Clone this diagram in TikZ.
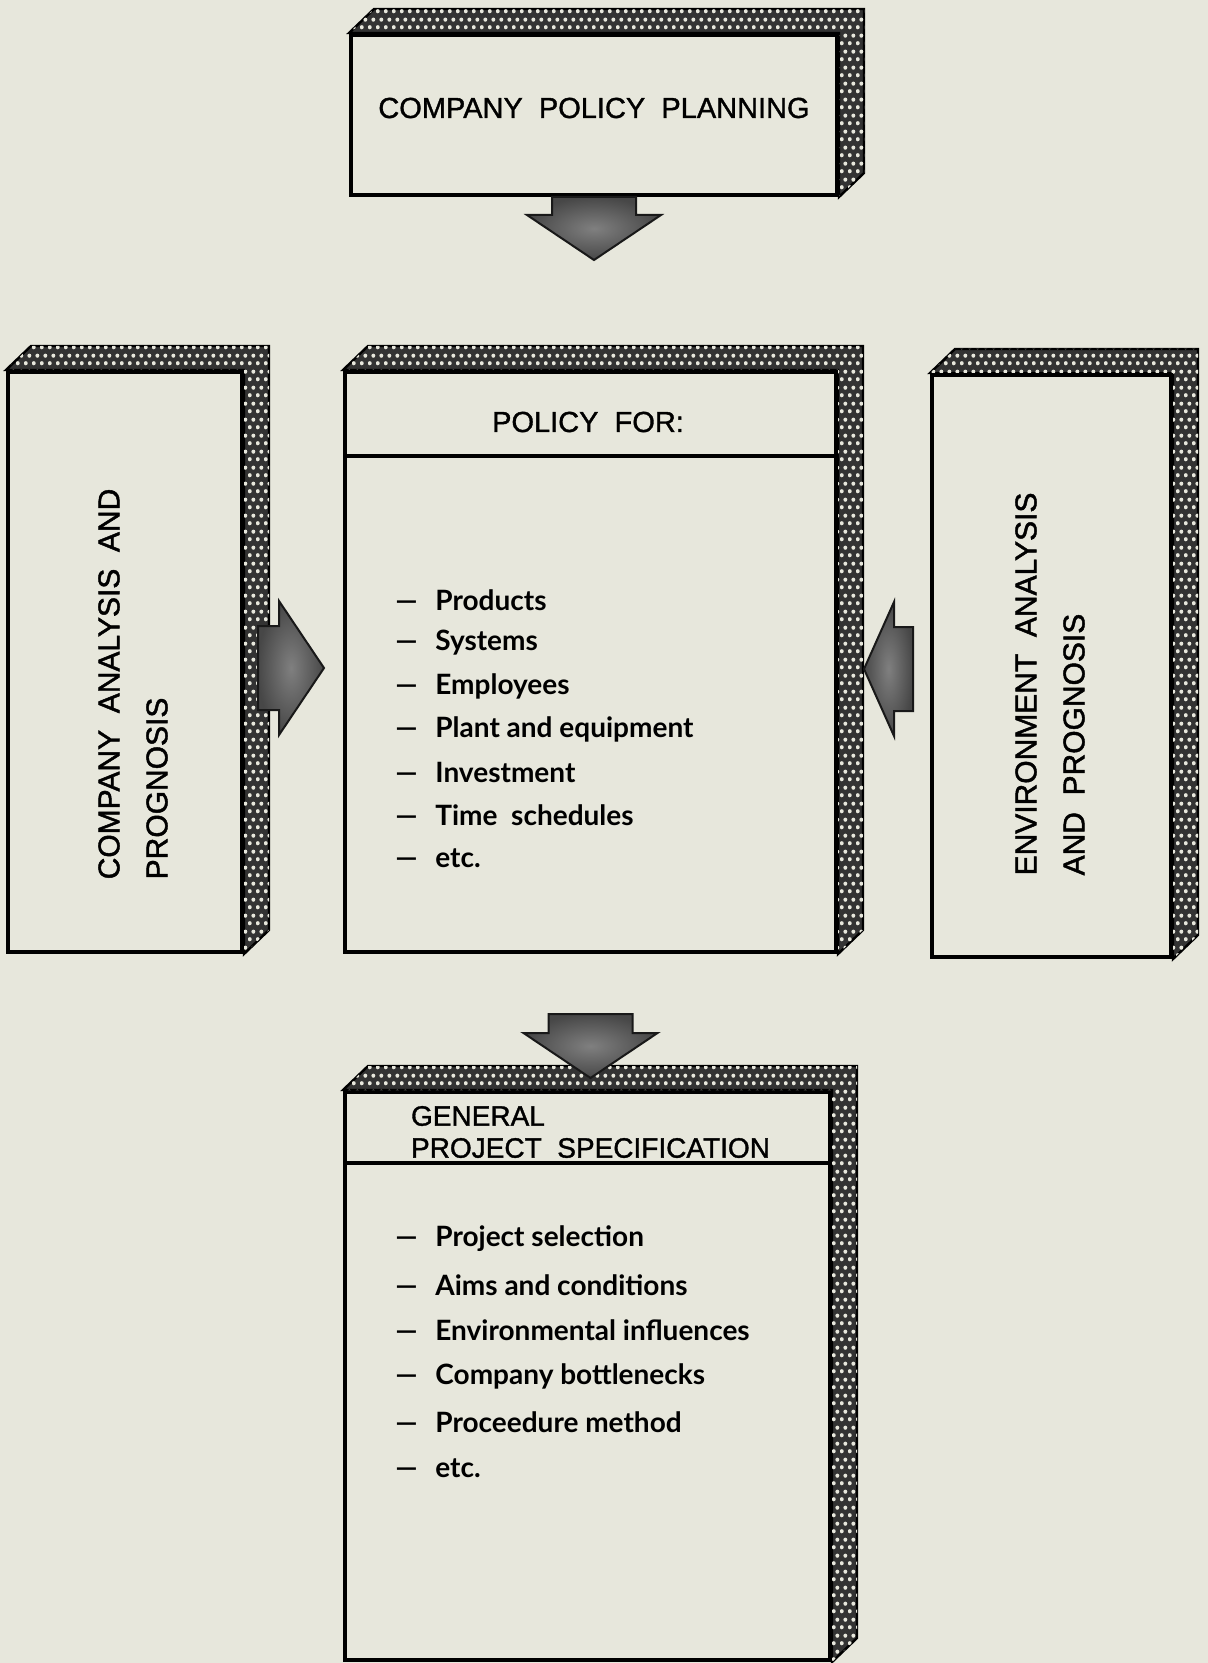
\documentclass[tikz,border=0pt]{standalone}
\usepackage{fontspec}
\setmainfont{Liberation Sans}
\newfontfamily\headfont{Liberation Sans}[FakeBold=1.2]
\newfontfamily\sidefont{Liberation Sans}[FakeBold=1.5]
\newfontfamily\listfont{Lato}
\usepackage{tikz}
\usetikzlibrary{calc, patterns.meta}
\definecolor{paper}{RGB}{231,231,220}

\tikzdeclarepattern{
  name=banddots,
  type=uncolored,
  bounding box={(0pt,0pt) and (4pt,8pt)},
  tile size={(4pt,8pt)},
  code={
    \fill (1pt,2pt) circle (1.1pt);
    \fill (3pt,6pt) circle (1.1pt);
  }
}

\tikzset{
  face/.style={draw, line width=2pt, fill=paper, inner sep=0pt},
  band/.style={draw, line width=1.2pt, fill=black!80, postaction={pattern=banddots, pattern color=paper}},
  fat/.style={draw=black!90, line width=1pt, inner color=black!50, outer color=black!72},
  heading/.style={font=\headfont\fontsize{14.5}{18}\selectfont},
  sidetext/.style={font=\sidefont\fontsize{15}{24}\selectfont, align=left, rotate=90},
  item/.style={anchor=west, inner sep=0pt, font=\listfont\bfseries\fontsize{14}{17}\selectfont},
}

% dotted 3D edge on top and right of a box
\newcommand{\boxband}[1]{%
  \draw[band] (#1.north west) -- ++(25,-24) -- ($(#1.north east)+(25,-24)$)
    -- ($(#1.south east)+(25,-24)$) -- (#1.south east) -- (#1.north east) -- cycle;}

% broad arrow: [head length]{tail}{tip}
\newcommand{\fatarrow}[3][22.5pt]{%
  \coordinate (ah) at ($(#3)!#1!(#2)$);
  \shadedraw[fat] ($(#2)!21pt!90:(#3)$) -- ($(ah)!21pt!90:(#3)$) -- ($(ah)!33.5pt!90:(#3)$)
    -- (#3) -- ($(ah)!33.5pt!-90:(#3)$) -- ($(ah)!21pt!-90:(#3)$) -- ($(#2)!21pt!-90:(#3)$) -- cycle;}

\begin{document}
\begin{tikzpicture}[x=0.5pt, y=-0.5pt]
\fill[paper] (0,0) rectangle (1208,1663);
\useasboundingbox (0,0) rectangle (1208,1663);

\begin{scope}[every node/.style={face}]
    \node[minimum width=243pt, minimum height=80pt] (plan) at (594,115) {};
    \node[minimum width=117pt, minimum height=290pt] (compana) at (125,662) {};
    \node[minimum width=245.5pt, minimum height=290pt] (policy) at (590.5,662) {};
    \node[minimum width=119.5pt, minimum height=291pt] (envana) at (1051.5,666) {};
    \node[minimum width=242.5pt, minimum height=284pt] (spec) at (587.5,1376) {};
\end{scope}
\boxband{plan}
\boxband{compana}
\boxband{policy}
\boxband{envana}
\boxband{spec}
\draw[line width=2pt] ($(policy.north west)+(0,86)$) -- ($(policy.north east)+(0,86)$);
\draw[line width=2pt] ($(spec.north west)+(0,73)$) -- ($(spec.north east)+(0,73)$);

% headings
\node[heading] (plantext) at (594,108) {COMPANY\ \ POLICY\ \ PLANNING};
\node[heading] (policyhead) at (588,422) {POLICY\ \ FOR:};
\node[heading, anchor=west, align=left, font=\headfont\fontsize{14}{16}\selectfont] (spechead) at (404,1132) {GENERAL\\PROJECT\ \ SPECIFICATION};
\node[sidetext] (compantext) at (133,684) {COMPANY\ \ ANALYSIS\ \ AND\\PROGNOSIS};
\node[sidetext] (envantext) at (1050,684) {ENVIRONMENT\ \ ANALYSIS\\AND\ \ PROGNOSIS};

% lists
\foreach \t [count=\i] in {Products, Systems, Employees, Plant and equipment, Investment, Time\ \ schedules, etc.}
    \node[item] (pol\i) at (395,{557+43*\i}) {\makebox[20pt][l]{\textemdash}\t};
\foreach \t [count=\i] in {Project selection, Aims and conditions, Environmental influences, Company bottlenecks, Proceedure method, etc.}
    \node[item] (spc\i) at (395,{1193.2+45.8*\i}) {\makebox[20pt][l]{\textemdash}\t};

% arrows
\coordinate (plantip) at ($(plan.south)+(0,63)$);
\fatarrow{plan.south}{plantip}
\coordinate (comptail) at ($(compana.east)+(14,6)$);
\coordinate (comptip) at ($(compana.east)+(80,6)$);
\fatarrow{comptail}{comptip}
\coordinate (envtail) at ($(envana.west)+(-17,3)$);
\coordinate (envtip) at ($(policy.east)+(26,7)$);
\fatarrow[15pt]{envtail}{envtip}
\coordinate (spectail) at ($(policy.south)+(0,60)$);
\coordinate (spectip) at ($(spec.north)+(3,-12)$);
\fatarrow{spectail}{spectip}
\end{tikzpicture}
\end{document}
